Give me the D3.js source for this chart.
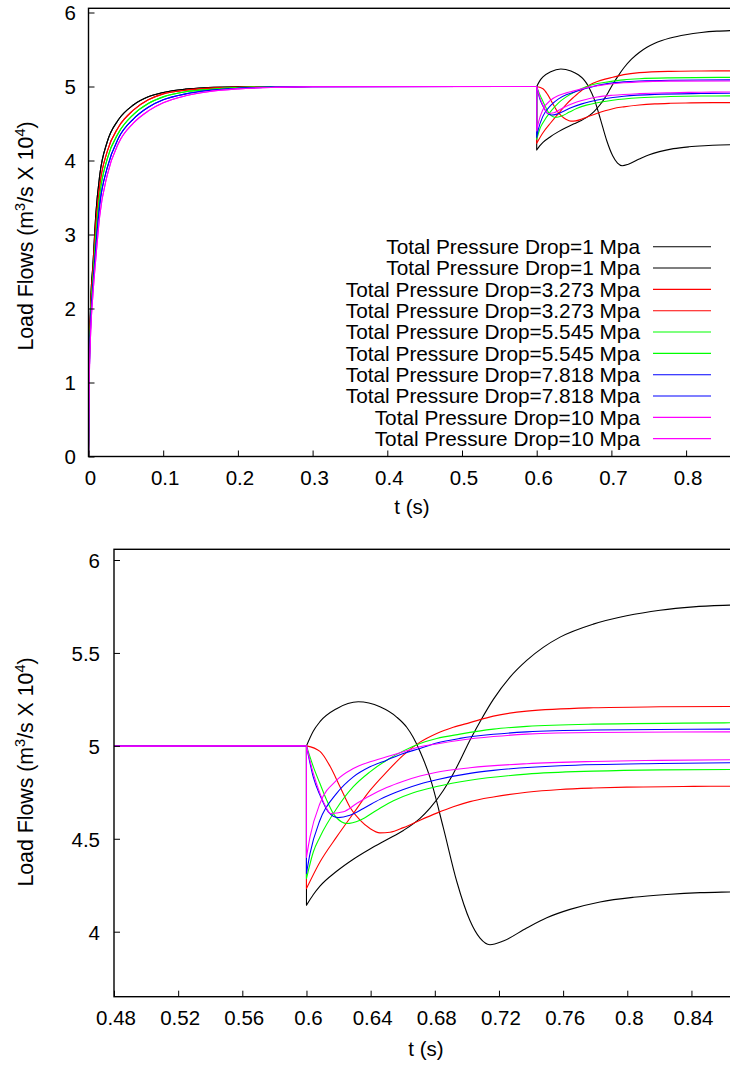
<!DOCTYPE html>
<html>
<head>
<meta charset="utf-8">
<script src="https://cdn.jsdelivr.net/npm/d3@7"></script>
<style>
  html, body { margin: 0; padding: 0; background: #fff; overflow: hidden; }
  svg { display: block; font-family: "Liberation Sans", Arial, sans-serif; }
</style>
</head>
<body>
<svg id="chart" width="730" height="1065"></svg>
<script>
// Legend labels, one per simulated load flow (two loads per pressure drop)
const legendLabels = [
  "Total Pressure Drop=1 Mpa", "Total Pressure Drop=1 Mpa",
  "Total Pressure Drop=3.273 Mpa", "Total Pressure Drop=3.273 Mpa",
  "Total Pressure Drop=5.545 Mpa", "Total Pressure Drop=5.545 Mpa",
  "Total Pressure Drop=7.818 Mpa", "Total Pressure Drop=7.818 Mpa",
  "Total Pressure Drop=10 Mpa", "Total Pressure Drop=10 Mpa"
];
const seriesColors = ["#000000", "#ff0000", "#00ff00", "#0000ff", "#ff00ff"];

// Start-up phase (t in s) shared by both loads of each pressure drop
const startTimes   = [0, 0.001, 0.003, 0.006, 0.01, 0.015, 0.025, 0.04, 0.06, 0.08, 0.1, 0.13, 0.16, 0.2, 0.25, 0.3, 0.6];
const startBlack   = [0, 1.2, 2.1, 2.6, 3.3, 3.8, 4.25, 4.55, 4.75, 4.86, 4.92, 4.965, 4.985, 4.996, 5.0, 5.0, 5.0];
const startRed     = [0, 1.15, 2.0, 2.5, 3.15, 3.66, 4.12, 4.45, 4.68, 4.82, 4.9, 4.95, 4.975, 4.99, 4.998, 5.0, 5.0];
const startGreen   = [0, 1.1, 1.9, 2.4, 3.0, 3.53, 4.02, 4.37, 4.62, 4.77, 4.86, 4.93, 4.96, 4.985, 4.995, 5.0, 5.0];
const startBlue    = [0, 1.05, 1.8, 2.3, 2.85, 3.4, 3.9, 4.3, 4.56, 4.72, 4.82, 4.9, 4.945, 4.975, 4.992, 4.998, 5.0];
const startMagenta = [0, 1.0, 1.7, 2.2, 2.7, 3.25, 3.8, 4.23, 4.505, 4.67, 4.78, 4.875, 4.93, 4.968, 4.988, 4.996, 5.0];

// Transient after the disturbance at t = 0.6 s, as [t, flow] pairs
const blackSwing = [[0.6,5.0],[0.6043,5.08],[0.6084,5.13],[0.6188,5.20],[0.6323,5.237],[0.6458,5.21],[0.6562,5.155],[0.6625,5.10],[0.6666,5.045],[0.6708,4.97],[0.677,4.83],[0.6853,4.56],[0.6937,4.27],[0.7019,4.06],[0.7082,3.965],[0.7144,3.93],[0.7227,3.95],[0.7373,4.02],[0.7498,4.075],[0.7643,4.12],[0.783,4.16],[0.8038,4.185],[0.8246,4.20],[0.8455,4.21],[0.864,4.214],[0.9,4.22]];
const blackRise  = [[0.6,4.142],[0.6043,4.20],[0.6084,4.245],[0.6188,4.325],[0.6292,4.39],[0.6396,4.445],[0.65,4.495],[0.6604,4.545],[0.6708,4.61],[0.677,4.665],[0.6853,4.76],[0.6915,4.85],[0.6957,4.92],[0.7019,5.03],[0.7082,5.13],[0.7165,5.25],[0.7269,5.37],[0.7373,5.46],[0.7476,5.53],[0.7581,5.585],[0.7788,5.655],[0.7996,5.70],[0.8204,5.73],[0.8412,5.748],[0.864,5.757],[0.9,5.764]];
const redRise    = [[0.6,4.232],[0.6084,4.375],[0.6188,4.51],[0.6292,4.636],[0.6396,4.76],[0.65,4.86],[0.6604,4.95],[0.6708,5.02],[0.6812,5.067],[0.6915,5.10],[0.7019,5.125],[0.7165,5.16],[0.7373,5.187],[0.7788,5.205],[0.8204,5.21],[0.864,5.212],[0.9,5.214]];
const redDip     = [[0.6,5.0],[0.6084,4.97],[0.6147,4.89],[0.6209,4.78],[0.6271,4.67],[0.6334,4.60],[0.6396,4.555],[0.6458,4.532],[0.6521,4.535],[0.6604,4.56],[0.6708,4.60],[0.6812,4.638],[0.6915,4.672],[0.7019,4.70],[0.7165,4.725],[0.7373,4.75],[0.7581,4.765],[0.7788,4.773],[0.7996,4.778],[0.8412,4.782],[0.864,4.783],[0.9,4.785]];
const greenRise  = [[0.6,4.286],[0.6043,4.43],[0.6084,4.51],[0.6188,4.663],[0.6292,4.78],[0.6396,4.86],[0.65,4.923],[0.6604,4.973],[0.6708,5.013],[0.6812,5.04],[0.6957,5.063],[0.7165,5.09],[0.7373,5.105],[0.7788,5.117],[0.864,5.124],[0.9,5.125]];
const greenDip   = [[0.6,5.0],[0.6043,4.887],[0.6084,4.797],[0.6126,4.708],[0.6167,4.636],[0.622,4.59],[0.6251,4.582],[0.6334,4.60],[0.6438,4.654],[0.6542,4.705],[0.6666,4.748],[0.6812,4.781],[0.7019,4.815],[0.7373,4.848],[0.7788,4.864],[0.8204,4.871],[0.864,4.873],[0.9,4.875]];
const blueRise   = [[0.6,4.313],[0.6022,4.42],[0.6084,4.60],[0.6188,4.744],[0.6292,4.833],[0.6396,4.887],[0.65,4.923],[0.6604,4.959],[0.6708,4.986],[0.6812,5.015],[0.6957,5.04],[0.7165,5.062],[0.7373,5.075],[0.7788,5.085],[0.864,5.09],[0.9,5.091]];
const blueDip    = [[0.6,5.0],[0.6043,4.83],[0.6084,4.735],[0.6136,4.645],[0.6198,4.614],[0.6271,4.627],[0.6355,4.663],[0.6458,4.712],[0.6604,4.765],[0.6708,4.795],[0.6812,4.818],[0.7019,4.852],[0.7165,4.868],[0.7581,4.893],[0.8204,4.905],[0.864,4.909],[0.9,4.911]];
const magentaRise= [[0.6,4.40],[0.6022,4.51],[0.6084,4.69],[0.6188,4.815],[0.6292,4.878],[0.6396,4.914],[0.65,4.941],[0.6604,4.968],[0.6708,4.995],[0.6812,5.01],[0.6957,5.03],[0.7165,5.05],[0.7373,5.063],[0.7788,5.072],[0.864,5.075],[0.9,5.076]];
const magentaDip = [[0.6,5.0],[0.6043,4.85],[0.6084,4.744],[0.6126,4.663],[0.615,4.636],[0.623,4.645],[0.6313,4.69],[0.6396,4.732],[0.65,4.776],[0.6604,4.81],[0.6708,4.838],[0.6812,4.858],[0.7019,4.882],[0.7373,4.904],[0.7788,4.916],[0.8204,4.922],[0.864,4.925],[0.9,4.927]];

// Axis ticks
const topXTicks = [0, 0.1, 0.2, 0.3, 0.4, 0.5, 0.6, 0.7, 0.8];
const topYTicks = [0, 1, 2, 3, 4, 5, 6];
const botXTicks = [0.48, 0.52, 0.56, 0.6, 0.64, 0.68, 0.72, 0.76, 0.8, 0.84];
const botYTicks = [4, 4.5, 5, 5.5, 6];

const startSets = [startBlack, startRed, startGreen, startBlue, startMagenta];
const afterSets = [[blackSwing, blackRise], [redRise, redDip], [greenRise, greenDip], [blueRise, blueDip], [magentaRise, magentaDip]];

const series = [];
afterSets.forEach((pair, gi) => {
  pair.forEach((after, k) => {
    series.push({
      label: legendLabels[gi * 2 + k],
      color: seriesColors[gi],
      start: startTimes.map((t, i) => [t, startSets[gi][i]]),
      after: after
    });
  });
});

const svg = d3.select("#chart");
const FONT = 20.5;
const TITLE_FONT = 21.3;
const LEGEND_FONT = 20.8;

function drawPanel(cfg) {
  const g = svg.append("g");
  const x = d3.scaleLinear().domain(cfg.xDomain).range(cfg.xRange);
  const y = d3.scaleLinear().domain(cfg.yDomain).range(cfg.yRange);
  const left = cfg.frame.left, right = cfg.frame.right, top = cfg.frame.top, bottom = cfg.frame.bottom;

  const clipId = "clip-" + cfg.id;
  svg.append("defs").append("clipPath").attr("id", clipId)
    .append("rect").attr("x", left).attr("y", top).attr("width", right - left).attr("height", bottom - top);

  const line = d3.line().x(d => x(d[0])).y(d => y(d[1])).curve(d3.curveMonotoneX);

  const lines = g.append("g").attr("clip-path", `url(#${clipId})`);
  series.forEach(s => {
    const p1 = line(s.start);
    const p2 = line(s.after).replace(/^M/, "L");
    lines.append("path")
      .attr("d", p1 + p2)
      .attr("fill", "none")
      .attr("stroke", s.color)
      .attr("stroke-width", 1.1)
      .attr("stroke-linejoin", "round");
  });

  // Frame
  g.append("rect")
    .attr("x", left).attr("y", top)
    .attr("width", right - left).attr("height", bottom - top)
    .attr("fill", "none").attr("stroke", "#000").attr("stroke-width", 1.4);

  // Bottom axis: inward ticks
  const xAxis = d3.axisBottom(x).tickValues(cfg.xTicks).tickSizeInner(-6).tickSizeOuter(0)
    .tickPadding(0).tickFormat(d => d3.format("~g")(d));
  const xa = g.append("g").attr("transform", `translate(0,${bottom})`).call(xAxis);
  xa.select(".domain").remove();
  xa.selectAll(".tick line").attr("stroke", "#000").attr("stroke-width", 1);
  xa.selectAll(".tick text")
    .attr("font-size", FONT).attr("fill", "#000")
    .attr("dy", null).attr("y", cfg.xLabelBaseline).attr("dx", 1.5)
    .attr("font-family", "Liberation Sans, Arial, sans-serif");

  // Left axis: inward ticks
  const yAxis = d3.axisLeft(y).tickValues(cfg.yTicks).tickSizeInner(-6).tickSizeOuter(0)
    .tickPadding(0).tickFormat(d => d3.format("~g")(d));
  const ya = g.append("g").attr("transform", `translate(${left},0)`).call(yAxis);
  ya.select(".domain").remove();
  ya.selectAll(".tick line").attr("stroke", "#000").attr("stroke-width", 1);
  ya.selectAll(".tick text")
    .attr("font-size", FONT).attr("fill", "#000")
    .attr("x", -cfg.yLabelGap).attr("dy", "0.36em")
    .attr("font-family", "Liberation Sans, Arial, sans-serif");

  // Axis titles
  g.append("text")
    .attr("x", cfg.xTitle[0]).attr("y", cfg.xTitle[1])
    .attr("text-anchor", "middle").attr("font-size", FONT).attr("fill", "#000")
    .text("t (s)");

  const yt = g.append("text")
    .attr("transform", `translate(${cfg.yTitle[0]},${cfg.yTitle[1]}) rotate(-90)`)
    .attr("text-anchor", "middle").attr("font-size", TITLE_FONT).attr("fill", "#000");
  yt.append("tspan").text("Load Flows (m");
  yt.append("tspan").attr("dy", -8).attr("font-size", 14.5).text("3");
  yt.append("tspan").attr("dy", 8).text("/s X 10");
  yt.append("tspan").attr("dy", -8).attr("font-size", 14.5).text("4");
  yt.append("tspan").attr("dy", 8).text(")");

  return g;
}

// Full run: start-up and disturbance
const topPanel = drawPanel({
  id: "top",
  xDomain: [0, 1], xRange: [88.5, 88.5 + 747],
  yDomain: [0, 6], yRange: [456.5, 12.5],
  frame: { left: 88.5, right: 737, top: 8.3, bottom: 456.5 },
  xTicks: topXTicks, yTicks: topYTicks,
  xLabelBaseline: 28.5, yLabelGap: 12.5,
  xTitle: [412, 514], yTitle: [33, 236]
});

// Zoom on the disturbance
drawPanel({
  id: "bottom",
  xDomain: [0.48, 0.9], xRange: [114, 114 + 0.42 * 1604],
  yDomain: [4, 6], yRange: [931.7, 560],
  frame: { left: 114, right: 738, top: 549.3, bottom: 996.7 },
  xTicks: botXTicks, yTicks: botYTicks,
  xLabelBaseline: 28.5, yLabelGap: 14,
  xTitle: [426, 1056], yTitle: [33, 772]
});

// Legend for the full-run panel
const legend = topPanel.append("g");
series.forEach((s, i) => {
  const cy = 246.7 + i * 21.33;
  legend.append("text")
    .attr("x", 640).attr("y", cy + 7.3)
    .attr("text-anchor", "end").attr("font-size", LEGEND_FONT).attr("fill", "#000")
    .text(s.label);
  legend.append("line")
    .attr("x1", 653).attr("x2", 711).attr("y1", cy).attr("y2", cy)
    .attr("stroke", s.color).attr("stroke-width", 1.1);
});
</script>
</body>
</html>
